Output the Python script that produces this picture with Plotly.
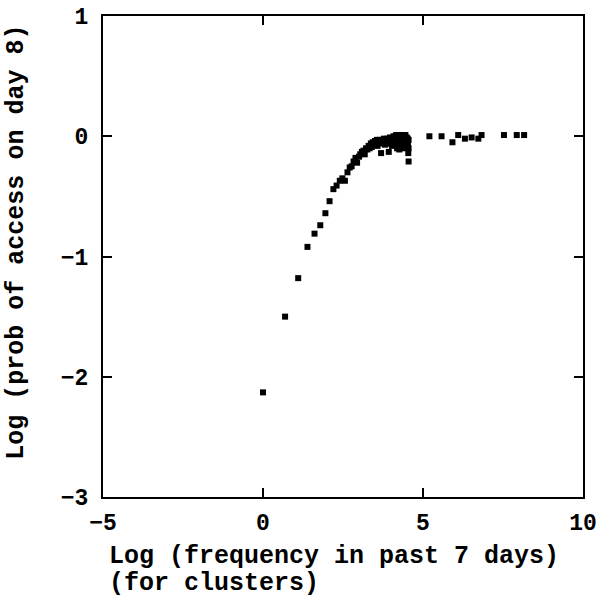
import plotly.graph_objects as go

# Log(frequency) values and Log(probability) values
log_freq = [
    0.00, 0.69, 1.10, 1.39, 1.61, 1.79, 1.95, 2.08, 2.20, 2.30,
    2.40, 2.48, 2.56, 2.64, 2.71, 2.77, 2.83, 2.89, 2.94, 3.00,
    3.04, 3.09, 3.14, 3.18, 3.22, 3.26, 3.30, 3.33, 3.37, 3.40,
    3.43, 3.47, 3.50, 3.53, 3.56, 3.58, 3.61, 3.64, 3.66, 3.69,
    3.71, 3.74, 3.76, 3.78, 3.81, 3.83, 3.85, 3.87, 3.89, 3.91,
    3.93, 3.95, 3.97, 3.99, 4.01, 4.03, 4.04, 4.06, 4.08, 4.09,
    4.11, 4.13, 4.14, 4.16, 4.17, 4.19, 4.20, 4.22, 4.23, 4.25,
    4.26, 4.28, 4.29, 4.30, 4.32, 4.33, 4.34, 4.36, 4.37, 4.38,
    4.39, 4.41, 4.42, 4.43, 4.44, 4.45, 4.47, 4.48, 4.49, 4.50,
    4.51, 4.52, 4.53, 4.54, 4.55, 4.55, 4.55,
    5.20, 5.58, 5.92, 6.10, 6.31, 6.52, 6.73, 6.83, 7.53, 7.93, 8.16,
]
log_prob = [
    -2.13, -1.50, -1.18, -0.92, -0.81, -0.74, -0.64, -0.54, -0.44, -0.41,
    -0.37, -0.35, -0.37, -0.30, -0.26, -0.25, -0.21, -0.18, -0.22, -0.17,
    -0.15, -0.13, -0.12, -0.15, -0.10, -0.11, -0.08, -0.10, -0.06, -0.09,
    -0.05, -0.07, -0.04, -0.06, -0.03, -0.08, -0.04, -0.03, -0.06, -0.14,
    -0.04, -0.03, -0.05, -0.02, -0.07, -0.04, -0.03, -0.06, -0.02, -0.05,
    -0.13, -0.04, -0.01, -0.06, -0.03, -0.08, -0.02, -0.05, 0.00, -0.04,
    -0.07, -0.02, -0.05, 0.01, -0.03, -0.10, -0.02, -0.06, 0.01, -0.03,
    -0.11, -0.01, -0.05, 0.01, -0.03, -0.07, 0.00, -0.04, -0.08, 0.01,
    -0.02, -0.06, -0.10, -0.01, -0.04, 0.01, -0.07, -0.03, -0.01, -0.05,
    -0.09, -0.02, -0.06, -0.14, -0.21, -0.03, -0.10,
    0.00, 0.00, -0.05, 0.01, -0.02, -0.01, -0.02, 0.01, 0.01, 0.01, 0.01,
]

x_ticks = [-5, 0, 5, 10]
y_ticks = [-3, -2, -1, 0, 1]
x_title_1 = "Log (frequency in past 7 days)"
x_title_2 = "(for clusters)"
y_title = "Log (prob of access on day 8)"

FONT = "Liberation Mono, Courier New, monospace"

fig = go.Figure()
fig.add_trace(go.Scatter(
    x=log_freq, y=log_prob, mode="markers",
    marker=dict(symbol="square", size=6, color="black", line=dict(width=0)),
    showlegend=False,
))

axis_common = dict(
    showgrid=False, zeroline=False, showline=True, linecolor="black", linewidth=2,
    mirror="ticks", ticks="inside", ticklen=9, tickwidth=2, tickcolor="black",
    automargin=False,
    tickfont=dict(family=FONT, size=23, color="black", weight="bold"),
)
fig.update_xaxes(range=[-5, 10], tickvals=x_ticks, ticklabelstandoff=3, **axis_common)
fig.update_yaxes(range=[-3, 1], tickvals=y_ticks, ticklabelstandoff=8, **axis_common)

title_font = dict(family=FONT, size=25, color="black", weight="bold")
fig.add_annotation(
    text=x_title_1, xref="paper", yref="paper", x=0.008, y=-0.1227,
    xanchor="left", yanchor="middle", align="left", showarrow=False,
    font=title_font,
)
fig.add_annotation(
    text=x_title_2, xref="paper", yref="paper", x=0.008, y=-0.1788,
    xanchor="left", yanchor="middle", align="left", showarrow=False,
    font=title_font,
)
fig.add_annotation(
    text=y_title, xref="paper", yref="paper", x=-0.181, y=0.529,
    xanchor="center", yanchor="middle", textangle=-90, showarrow=False,
    font=title_font,
)

fig.update_layout(
    width=603, height=609,
    margin=dict(l=103, r=20, t=16, b=112),
    plot_bgcolor="white", paper_bgcolor="white",
)

fig.write_html("out.html")
